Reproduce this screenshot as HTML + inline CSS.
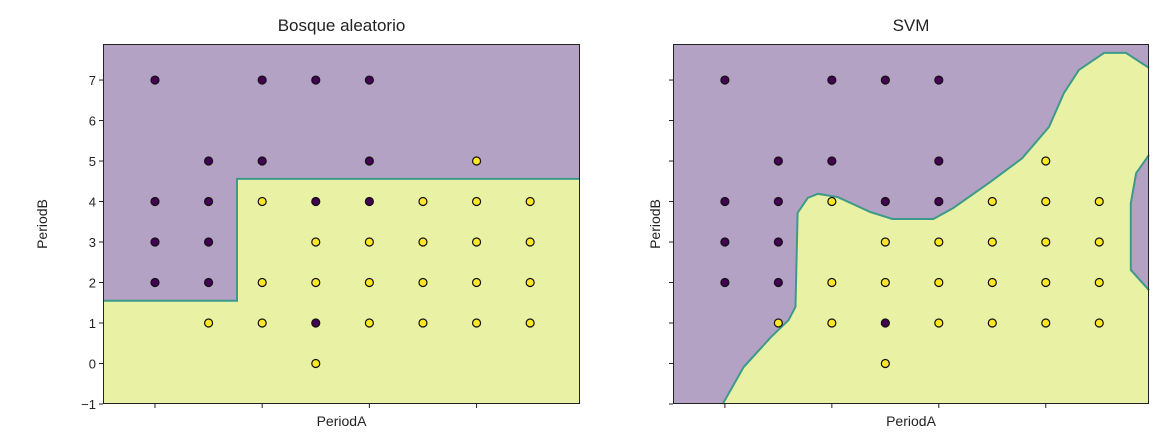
<!DOCTYPE html>
<html><head><meta charset="utf-8"><style>
body{margin:0;background:#fff}
svg{display:block;font-family:"Liberation Sans","DejaVu Sans",sans-serif}
</style></head><body>
<svg id="c" width="1170" height="445"></svg>
<script>
const pointsX = [0,0,0,0, 1,1,1,1,1, 2,2,2,2,2, 3,3,3,3,3,3, 4,4,4,4,4,4, 5,5,5,5, 6,6,6,6,6, 7,7,7,7];
const pointsY = [7,4,3,2, 5,4,3,2,1, 7,5,4,2,1, 7,4,3,2,1,0, 7,5,4,3,2,1, 4,3,2,1, 5,4,3,2,1, 4,3,2,1];
const pointsClass = [0,0,0,0, 0,0,0,0,1, 0,0,1,1,1, 0,0,1,1,0,1, 0,0,0,1,1,1, 1,1,1,1, 1,1,1,1,1, 1,1,1,1];
const rfBoundaryX = [-0.97,1.53,1.53,7.93];
const rfBoundaryY = [1.55,1.55,4.56,4.56];
const svmBoundaryX = [-0.04,0.35,0.86,1.19,1.32,1.36,1.55,1.74,2.11,2.72,3.13,3.90,4.27,4.96,5.56,6.06,6.34,6.62,7.09,7.50,7.93];
const svmBoundaryY = [-1,-0.09,0.65,1.07,1.40,3.72,4.09,4.19,4.11,3.74,3.57,3.57,3.84,4.48,5.07,5.84,6.68,7.25,7.67,7.67,7.30];
const svmPocketX = [7.93,7.69,7.59,7.59,7.93];
const svmPocketY = [5.15,4.70,3.96,2.31,1.81];
const yTicks = [-1,0,1,2,3,4,5,6,7];
const xTicks = [0,2,4,6];
const titles = ["Bosque aleatorio","SVM"];

const NS="http://www.w3.org/2000/svg";
const svg=document.getElementById('c');
const XMIN=-0.97,XMAX=7.93,YMIN=-1,YMAX=7.89;
const H=360,TOP=44;
const lefts=[103,673];
const widths=[477,476];
function mk(t,a,p){const e=document.createElementNS(NS,t);for(const k in a)e.setAttribute(k,a[k]);(p||svg).appendChild(e);return e;}
const PURPLE="#b3a2c3",YELLOW="#e9f1a5",LINE="#3d9a8b";

lefts.forEach((L,pi)=>{
  const W=widths[pi];
  const sx=v=>L+(v-XMIN)/(XMAX-XMIN)*W;
  const sy=v=>TOP+(YMAX-v)/(YMAX-YMIN)*H;
  const g=mk('g',{});
  
  
  const bg=mk('rect',{x:L,y:TOP,width:W,height:H,fill:PURPLE},g);
  
  
  let bx,by;
  if(pi===0){bx=rfBoundaryX;by=rfBoundaryY;}else{bx=svmBoundaryX;by=svmBoundaryY;}
  let pts=bx.map((v,i)=>sx(v)+','+sy(by[i]));
  let poly;
  if(pi===0){
    poly=[...pts, sx(XMAX)+','+sy(YMIN), sx(XMIN)+','+sy(YMIN)];
  } else {
    const pk=svmPocketX.map((v,i)=>sx(v)+','+sy(svmPocketY[i]));
    poly=[...pts,...pk, sx(XMAX)+','+sy(YMIN)];
  }
  const yr=mk('polygon',{points:poly.join(' '),fill:YELLOW},g);
  
  
  const bl=mk('polyline',{points:pts.join(' '),fill:'none',stroke:LINE,'stroke-width':2},g);
  
  
  if(pi===1){
    const pl=mk('polyline',{points:svmPocketX.map((v,i)=>sx(v)+','+sy(svmPocketY[i])).join(' '),fill:'none',stroke:LINE,'stroke-width':2},g);
    
    
  }
  pointsX.forEach((v,i)=>{
    const c=mk('circle',{cx:sx(v),cy:sy(pointsY[i]),r:4,fill:pointsClass[i]?'#fde725':'#440154',stroke:'#111','stroke-width':1.2},g);
    
    
  });
  const fr=mk('rect',{x:L+0.5,y:TOP+0.5,width:W-1,height:H-1,fill:'none',stroke:'#222','stroke-width':1},g);
  
  
  yTicks.forEach(t=>{
    mk('line',{x1:L-4,x2:L,y1:sy(t),y2:sy(t),stroke:'#222'},g);
    if(pi===0){
      const tx=mk('text',{x:L-7,y:sy(t)+5,'text-anchor':'end','font-size':13,fill:'#222'},g);
      tx.textContent=t<0?'\u2212'+(-t):t;
      
      
    }
  });
  xTicks.forEach(t=>{mk('line',{x1:sx(t),x2:sx(t),y1:TOP+H,y2:TOP+H+4,stroke:'#222'},g);});
  const ti=mk('text',{x:L+W/2,y:31,'text-anchor':'middle','font-size':17,fill:'#222'},g);
  ti.textContent=titles[pi];
  
  
  const xl=mk('text',{x:L+W/2,y:426,'text-anchor':'middle','font-size':14,fill:'#222'},g);
  xl.textContent='PeriodA';
  
  
  const yx=pi?660:47;
  const yl=mk('text',{x:yx,y:TOP+H/2,'text-anchor':'middle','font-size':14,fill:'#222',transform:`rotate(-90 ${yx} ${TOP+H/2})`},g);
  yl.textContent='PeriodB';
  
  
});
</script>
</body></html>
